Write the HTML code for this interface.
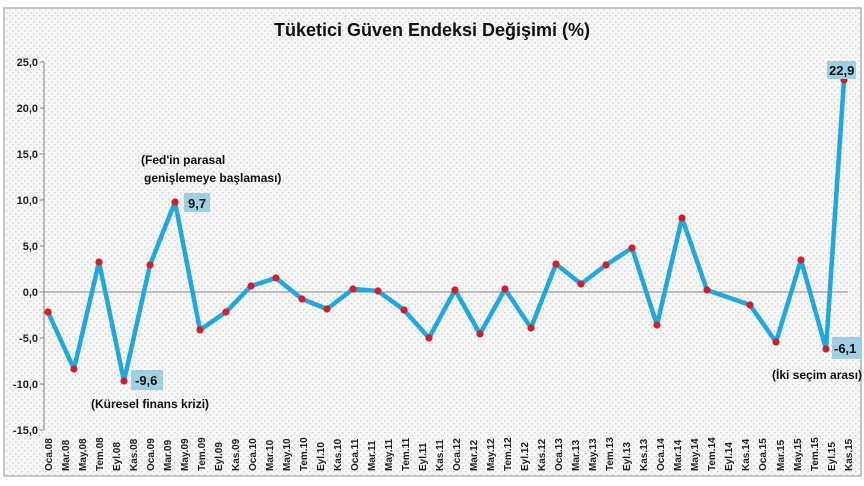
<!DOCTYPE html>
<html><head><meta charset="utf-8"><style>
html,body{margin:0;padding:0;background:#fff;width:864px;height:486px;overflow:hidden}
svg{display:block;font-family:"Liberation Sans",sans-serif}
</style></head><body>
<svg width="864" height="486" viewBox="0 0 864 486" xmlns="http://www.w3.org/2000/svg">
<defs>
<pattern id="dots" width="6" height="6" patternUnits="userSpaceOnUse">
<rect width="6" height="6" fill="#f7f7f7"/>
<rect x="0" y="0" width="1.5" height="1.5" fill="#d4d4d4"/>
<rect x="3" y="3" width="1.5" height="1.5" fill="#d4d4d4"/>
</pattern>
</defs>
<rect x="4" y="8" width="857" height="468" fill="url(#dots)" stroke="#b5b5b5" stroke-width="1.5"/>
<text x="432" y="36" text-anchor="middle" font-size="18" font-weight="bold" fill="#111">Tüketici Güven Endeksi Değişimi (%)</text>
<g font-size="11" font-weight="bold" fill="#222" text-anchor="end">
<text x="38" y="66">25,0</text><text x="38" y="112">20,0</text><text x="38" y="158">15,0</text>
<text x="38" y="204">10,0</text><text x="38" y="250">5,0</text><text x="38" y="296">0,0</text>
<text x="38" y="342">-5,0</text><text x="38" y="388">-10,0</text><text x="38" y="434">-15,0</text>
</g>
<g stroke="#888" stroke-width="1">
<line x1="44" y1="62" x2="44" y2="430"/>
<line x1="40" y1="62" x2="44" y2="62"/><line x1="40" y1="108" x2="44" y2="108"/><line x1="40" y1="154" x2="44" y2="154"/>
<line x1="40" y1="200" x2="44" y2="200"/><line x1="40" y1="246" x2="44" y2="246"/><line x1="40" y1="292" x2="44" y2="292"/>
<line x1="40" y1="338" x2="44" y2="338"/><line x1="40" y1="384" x2="44" y2="384"/><line x1="40" y1="430" x2="44" y2="430"/>
<line x1="44" y1="292" x2="848" y2="292"/>
</g>
<g font-size="10" font-weight="bold" fill="#222">
<text transform="translate(52,471) rotate(-90)">Oca.08</text>
<text transform="translate(69,471) rotate(-90)">Mar.08</text>
<text transform="translate(86,471) rotate(-90)">May.08</text>
<text transform="translate(103,471) rotate(-90)">Tem.08</text>
<text transform="translate(120,471) rotate(-90)">Eyl.08</text>
<text transform="translate(137,471) rotate(-90)">Kas.08</text>
<text transform="translate(154,471) rotate(-90)">Oca.09</text>
<text transform="translate(171,471) rotate(-90)">Mar.09</text>
<text transform="translate(188,471) rotate(-90)">May.09</text>
<text transform="translate(205,471) rotate(-90)">Tem.09</text>
<text transform="translate(222,471) rotate(-90)">Eyl.09</text>
<text transform="translate(239,471) rotate(-90)">Kas.09</text>
<text transform="translate(256,471) rotate(-90)">Oca.10</text>
<text transform="translate(273,471) rotate(-90)">Mar.10</text>
<text transform="translate(290,471) rotate(-90)">May.10</text>
<text transform="translate(307,471) rotate(-90)">Tem.10</text>
<text transform="translate(324,471) rotate(-90)">Eyl.10</text>
<text transform="translate(341,471) rotate(-90)">Kas.10</text>
<text transform="translate(358,471) rotate(-90)">Oca.11</text>
<text transform="translate(375,471) rotate(-90)">Mar.11</text>
<text transform="translate(392,471) rotate(-90)">May.11</text>
<text transform="translate(409,471) rotate(-90)">Tem.11</text>
<text transform="translate(426,471) rotate(-90)">Eyl.11</text>
<text transform="translate(443,471) rotate(-90)">Kas.11</text>
<text transform="translate(460,471) rotate(-90)">Oca.12</text>
<text transform="translate(477,471) rotate(-90)">Mar.12</text>
<text transform="translate(494,471) rotate(-90)">May.12</text>
<text transform="translate(511,471) rotate(-90)">Tem.12</text>
<text transform="translate(528,471) rotate(-90)">Eyl.12</text>
<text transform="translate(545,471) rotate(-90)">Kas.12</text>
<text transform="translate(562,471) rotate(-90)">Oca.13</text>
<text transform="translate(579,471) rotate(-90)">Mar.13</text>
<text transform="translate(596,471) rotate(-90)">May.13</text>
<text transform="translate(613,471) rotate(-90)">Tem.13</text>
<text transform="translate(630,471) rotate(-90)">Eyl.13</text>
<text transform="translate(647,471) rotate(-90)">Kas.13</text>
<text transform="translate(664,471) rotate(-90)">Oca.14</text>
<text transform="translate(681,471) rotate(-90)">Mar.14</text>
<text transform="translate(698,471) rotate(-90)">May.14</text>
<text transform="translate(715,471) rotate(-90)">Tem.14</text>
<text transform="translate(732,471) rotate(-90)">Eyl.14</text>
<text transform="translate(749,471) rotate(-90)">Kas.14</text>
<text transform="translate(766,471) rotate(-90)">Oca.15</text>
<text transform="translate(784,471) rotate(-90)">Mar.15</text>
<text transform="translate(801,471) rotate(-90)">May.15</text>
<text transform="translate(818,471) rotate(-90)">Tem.15</text>
<text transform="translate(835,471) rotate(-90)">Eyl.15</text>
<text transform="translate(852,471) rotate(-90)">Kas.15</text>
</g>
<polyline fill="none" stroke="#1ea8e0" stroke-width="4.5" stroke-linejoin="round" stroke-linecap="round" points="48,312 74,369 99,262 124,381 150,265 175,202 200,330 226,312 251,286 276,278 302,299 327,309 353,289 378,291 404,310 429,338 455,290 480,334 505,289 531,328 556,264 581,284 606,265 632,248 657,325 682,218 707,290 750,305 776,342 801,260 826,349 844,80"/>
<g fill="#d81b2a">
<circle cx="48" cy="312" r="3.6"/><circle cx="74" cy="369" r="3.6"/><circle cx="99" cy="262" r="3.6"/><circle cx="124" cy="381" r="3.6"/>
<circle cx="150" cy="265" r="3.6"/><circle cx="175" cy="202" r="3.6"/><circle cx="200" cy="330" r="3.6"/><circle cx="226" cy="312" r="3.6"/>
<circle cx="251" cy="286" r="3.6"/><circle cx="276" cy="278" r="3.6"/><circle cx="302" cy="299" r="3.6"/><circle cx="327" cy="309" r="3.6"/>
<circle cx="353" cy="289" r="3.6"/><circle cx="378" cy="291" r="3.6"/><circle cx="404" cy="310" r="3.6"/><circle cx="429" cy="338" r="3.6"/>
<circle cx="455" cy="290" r="3.6"/><circle cx="480" cy="334" r="3.6"/><circle cx="505" cy="289" r="3.6"/><circle cx="531" cy="328" r="3.6"/>
<circle cx="556" cy="264" r="3.6"/><circle cx="581" cy="284" r="3.6"/><circle cx="606" cy="265" r="3.6"/><circle cx="632" cy="248" r="3.6"/>
<circle cx="657" cy="325" r="3.6"/><circle cx="682" cy="218" r="3.6"/><circle cx="707" cy="290" r="3.6"/><circle cx="750" cy="305" r="3.6"/>
<circle cx="776" cy="342" r="3.6"/><circle cx="801" cy="260" r="3.6"/><circle cx="826" cy="349" r="3.6"/><circle cx="844" cy="80" r="3.6"/>
</g>
<g font-size="13" font-weight="bold" fill="#111">
<rect x="184" y="193" width="26" height="19" fill="#9fcfe0"/><text x="188" y="208">9,7</text>
<rect x="131" y="370" width="32" height="20" fill="#9fcfe0"/><text x="135" y="385">-9,6</text>
<rect x="832" y="337" width="30" height="22" fill="#9fcfe0"/><text x="834" y="353">-6,1</text>
<rect x="827" y="61" width="29" height="18" fill="#9fcfe0"/><text x="829" y="75">22,9</text>
</g>
<g font-size="12" font-weight="bold" fill="#111">
<text x="91" y="408">(Küresel finans krizi)</text>
<text x="141" y="164">(Fed'in parasal</text>
<text x="144" y="182">genişlemeye başlaması)</text>
<text x="772" y="379">(İki seçim arası)</text>
</g>
</svg>
</body></html>
